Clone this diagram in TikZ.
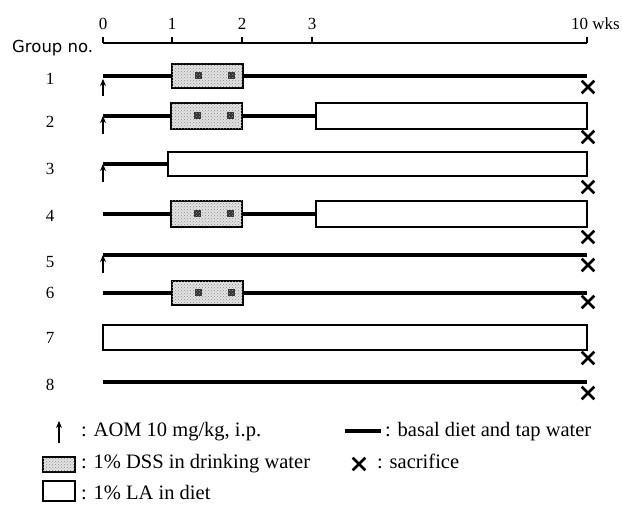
\documentclass[tikz,border=0pt]{standalone}
\usepackage{fontspec}
\setmainfont{Liberation Serif}
\newfontfamily\grpfont{DejaVu Sans}
\usetikzlibrary{arrows.meta,shapes.misc,patterns}
\begin{document}
\begin{tikzpicture}[x=1pt,y=-1pt,
  axisline/.style={line width=1.6pt},
  basal/.style={line width=3.2pt},
  aom/.style={line width=2pt,-{Stealth[length=7pt,width=6pt]}},
  dssfill/.style={fill=gray!22, postaction={pattern=crosshatch dots, pattern color=gray!90}},
  dssbox/.style={rectangle, draw, line width=2pt, inner sep=0pt, outer sep=0pt,
    minimum width=71pt, minimum height=24pt, dssfill,
    path picture={
      \fill[black!80] ([shift={(-12.5pt,-3.5pt)}]path picture bounding box.center) rectangle ++(7pt,7pt);
      \fill[black!80] ([shift={(20.5pt,-3.5pt)}]path picture bounding box.center) rectangle ++(7pt,7pt);
    }},
  labox/.style={rectangle, draw, line width=2pt, fill=white, inner sep=0pt, outer sep=0pt},
  sac/.style={cross out, draw, line width=2.6pt, minimum size=10pt, inner sep=0pt},
  grp/.style={font=\fontsize{17pt}{20pt}\selectfont},
  tick/.style={font=\fontsize{17pt}{20pt}\selectfont, anchor=base},
  leg/.style={font=\fontsize{20.5pt}{24pt}\selectfont, anchor=base west, inner sep=0pt}
]
\useasboundingbox (0,0) rectangle (622,505);

% time axis
\coordinate (t0) at (103,43);
\coordinate (t1) at (172,43);
\coordinate (t2) at (242,43);
\coordinate (t3) at (312,43);
\coordinate (t10) at (587,43);
\draw[axisline] (t0) -- (t10);
\foreach \t in {t0,t1,t2,t3,t10} \draw[axisline] (\t) -- ++(0,-6);
\node[tick] (l0) at (103,30) {0};
\node[tick] (l1) at (172,30) {1};
\node[tick] (l2) at (242,30) {2};
\node[tick] (l3) at (312,30) {3};
\node[tick, anchor=base west, inner sep=0pt] (l10) at (571,30) {10 wks};
\node[anchor=base west, inner sep=0pt, font=\grpfont\fontsize{16.5pt}{19pt}\selectfont] (gn) at (12,53) {Group no.};

% group labels
\node[grp] (g1) at (50,79) {1};
\node[grp] (g2) at (50,122) {2};
\node[grp] (g3) at (50,169) {3};
\node[grp] (g4) at (50,216) {4};
\node[grp] (g5) at (50,262) {5};
\node[grp] (g6) at (50,293) {6};
\node[grp] (g7) at (50,338) {7};
\node[grp] (g8) at (50,385) {8};

% start / end coordinates
\coordinate (s1) at (103,76);  \coordinate (e1) at (587,76);
\coordinate (s2) at (103,116);
\coordinate (s3) at (103,164);
\coordinate (s4) at (103,214);
\coordinate (s5) at (103,255); \coordinate (e5) at (587,255);
\coordinate (s6) at (103,293); \coordinate (e6) at (587,293);
\coordinate (s8) at (103,382); \coordinate (e8) at (587,382);

% LA boxes
\node[labox, anchor=west, minimum width=271pt, minimum height=26pt] (la2) at (316,116) {};
\node[labox, anchor=west, minimum width=419pt, minimum height=24pt] (la3) at (168,164) {};
\node[labox, anchor=west, minimum width=271pt, minimum height=26pt] (la4) at (316,214) {};
\node[labox, anchor=west, minimum width=484pt, minimum height=25pt] (la7) at (103,337.5) {};

% basal lines
\draw[basal] (s1) -- (e1);
\draw[basal] (s2) -- (la2.west);
\draw[basal] (s3) -- (la3.west);
\draw[basal] (s4) -- (la4.west);
\draw[basal] (s5) -- (e5);
\draw[basal] (s6) -- (e6);
\draw[basal] (s8) -- (e8);

% DSS boxes
\node[dssbox, anchor=west] (d1) at (172,76) {};
\node[dssbox, anchor=west, minimum height=26pt] (d2) at (171,116) {};
\node[dssbox, anchor=west, minimum height=26pt] (d4) at (171,214) {};
\node[dssbox, anchor=west] (d6) at (172,293) {};

% AOM arrows
\coordinate (a1) at (103,96);
\coordinate (a2) at (103,134);
\coordinate (a3) at (103,182);
\coordinate (a5) at (103,273);
\draw[aom] (a1) -- ([yshift=-3pt]s1);
\draw[aom] (a2) -- (s2);
\draw[aom] (a3) -- (s3);
\draw[aom] (a5) -- (s5);

% sacrifice
\node[sac] (x1) at (588,87) {};
\node[sac] (x2) at (588,137) {};
\node[sac] (x3) at (588,187) {};
\node[sac] (x4) at (588,237) {};
\node[sac] (x5) at (588,265) {};
\node[sac] (x6) at (588,302) {};
\node[sac] (x7) at (588,358) {};
\node[sac] (x8) at (588,393) {};

% legend
\coordinate (la) at (59,443);
\coordinate (lb) at (59,421);
\draw[aom] (la) -- (lb);
\node[leg] (tA) at (81,437) {: AOM 10 mg/kg, i.p.};
\node[rectangle, draw, line width=1.6pt, inner sep=0pt, minimum width=32pt, minimum height=15pt, dssfill] (ld) at (59,464.5) {};
\node[leg] (tD) at (81,468) {: 1\% DSS in drinking water};
\node[labox, line width=1.8pt, minimum width=32pt, minimum height=20pt] (ll) at (59,491) {};
\node[leg] (tL) at (81,499) {: 1\% LA in diet};
\coordinate (bA) at (345,431);
\coordinate (bB) at (381,431);
\draw[basal] (bA) -- (bB);
\node[leg] (tB) at (385,436) {: basal diet and tap water};
\node[sac] (xs) at (359,464) {};
\node[leg] (tS) at (377,468) {: sacrifice};
\end{tikzpicture}
\end{document}
